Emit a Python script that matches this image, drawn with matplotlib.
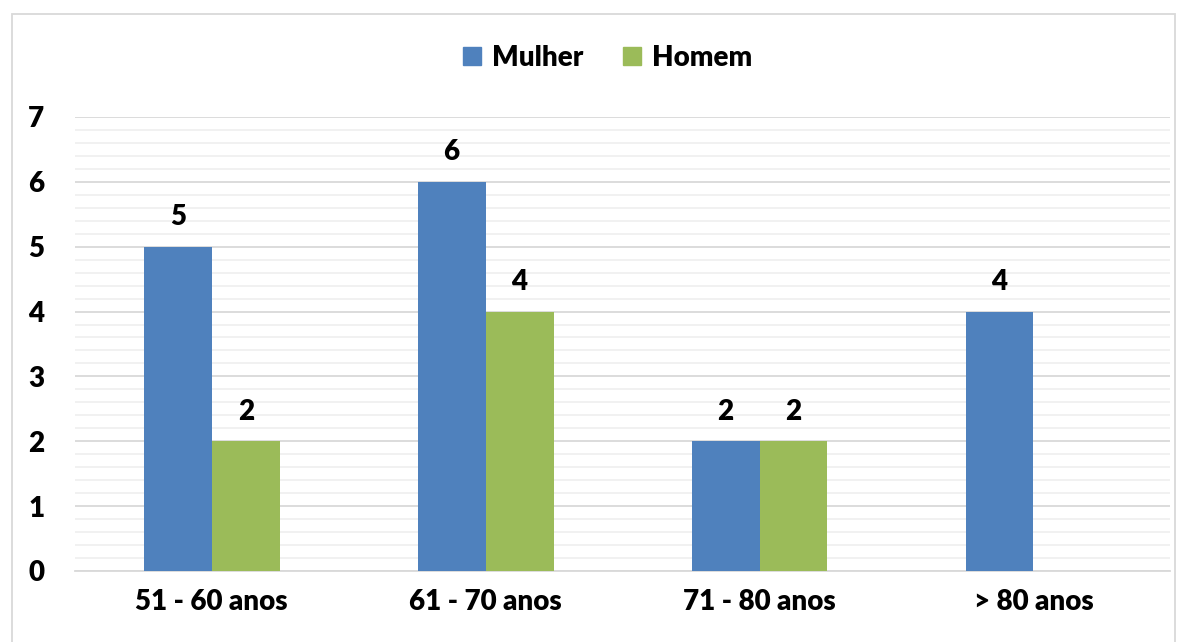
import numpy as np
import matplotlib.pyplot as plt
from matplotlib.patches import Rectangle, Patch
from matplotlib.ticker import MultipleLocator

# dados do gráfico
faixas = ["51 - 60 anos", "61 - 70 anos", "71 - 80 anos", "> 80 anos"]
mulher = [5, 6, 2, 4]
homem = [2, 4, 2, 0]

cor_mulher = "#4f81bd"
cor_homem = "#9bbb59"

plt.rcParams['font.family'] = ['Lato', 'DejaVu Sans']
plt.rcParams['font.weight'] = 'heavy'

fig = plt.figure(figsize=(11.87, 6.42), dpi=100)
ax = fig.add_axes([0.063, 0.1106, 0.923, 0.7072])

x = np.arange(len(faixas))
w = 0.248
b1 = ax.bar(x - w / 2, mulher, w, color=cor_mulher, zorder=3)
b2 = ax.bar(x + w / 2, homem, w, color=cor_homem, zorder=3)

# rótulos acima das barras (sem rótulo para zero)
for barras, vals in [(b1, mulher), (b2, homem)]:
    for r, v in zip(barras, vals):
        if v == 0:
            continue
        ax.annotate(str(v), (r.get_x() + r.get_width() / 2, v),
                    xytext=(0, 12), textcoords="offset points",
                    ha="center", va="bottom", fontsize=20, fontweight="heavy")

ax.set_xlim(-0.5, 3.5)
ax.set_ylim(0, 7)
ax.yaxis.set_major_locator(MultipleLocator(1))
ax.yaxis.set_minor_locator(MultipleLocator(0.2))
ax.set_xticks(x)
ax.set_xticklabels(faixas)
ax.grid(axis="y", which="major", color="#d9d9d9", linewidth=1.3, zorder=0)
ax.grid(axis="y", which="minor", color="#f0f0f0", linewidth=1.3, zorder=0)
ax.tick_params(axis="both", which="both", length=0, labelsize=20)
ax.tick_params(axis="y", pad=22)
ax.tick_params(axis="x", pad=13)
for s in ["top", "right", "left"]:
    ax.spines[s].set_visible(False)
ax.spines["bottom"].set_color("#d9d9d9")
ax.spines["bottom"].set_linewidth(1.3)

handles = [Patch(color=cor_mulher, label="Mulher"), Patch(color=cor_homem, label="Homem")]
fig.legend(handles=handles, loc="center", bbox_to_anchor=(0.512, 0.91), ncol=2,
           frameon=False, fontsize=20, handlelength=0.65, handleheight=0.65,
           columnspacing=1.4, handletextpad=0.4)

# moldura do gráfico
fig.patches.append(Rectangle((12 / 1187, -0.01), 1163 / 1187, 1 - 14 / 642 + 0.01,
                             transform=fig.transFigure, fill=False,
                             edgecolor="#d9d9d9", linewidth=1.3))

fig.savefig("out.png", dpi=100)
